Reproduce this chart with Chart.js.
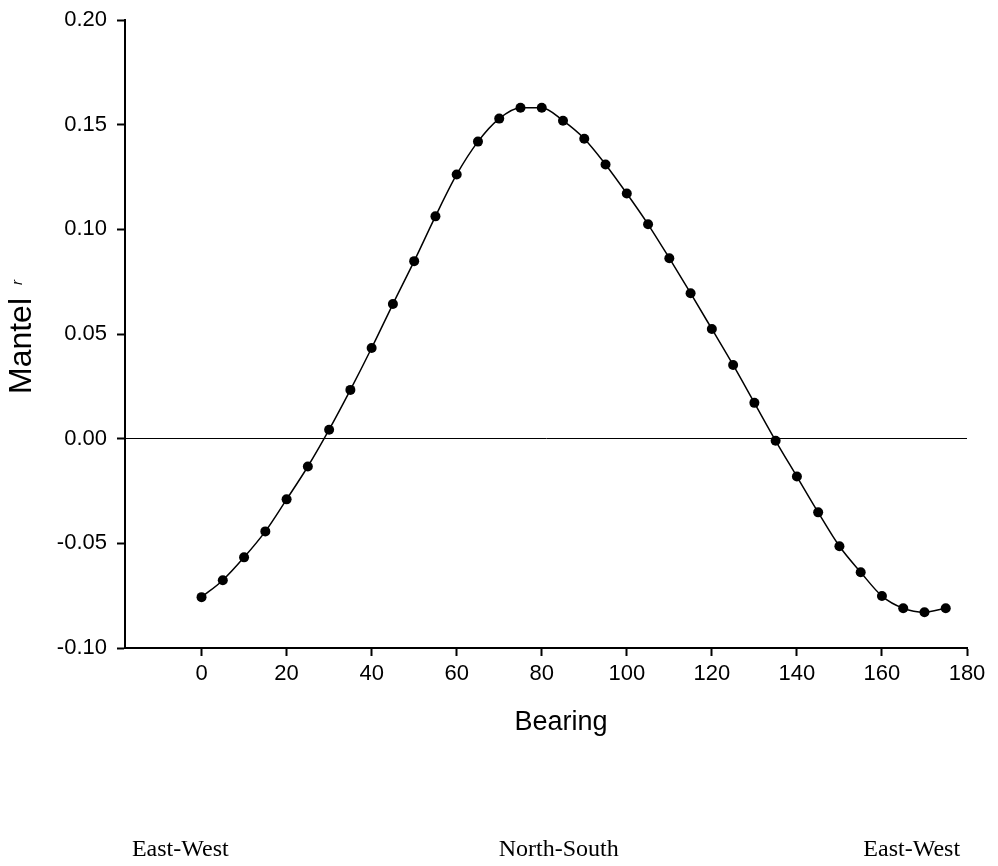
<!DOCTYPE html>
<html lang="en">
<head>
  <meta charset="UTF-8" />
  <title>Mantel r by bearing</title>
  <script src="https://cdn.jsdelivr.net/npm/chart.js"></script>
  <style>
    body {
      margin: 0;
      background: #fff;
    }
    .wrap {
      width: 998px;
      height: 866px;
      position: relative;
    }
  </style>
</head>
<body>
  <div class="wrap">
    <canvas id="mantelChart" width="998" height="866"></canvas>
  </div>

  <script>
    // bearing in degrees and Mantel r at each bearing
    const bearings = [0, 5, 10, 15, 20, 25, 30, 35, 40, 45, 50, 55, 60, 65, 70, 75, 80, 85,
                      90, 95, 100, 105, 110, 115, 120, 125, 130, 135, 140, 145, 150, 155, 160, 165, 170, 175];
    const mantelR = [-0.0757, -0.0676, -0.0567, -0.0443, -0.0290, -0.0133, 0.0043, 0.0233, 0.0433,
                     0.0643, 0.0848, 0.1062, 0.1262, 0.1419, 0.1529, 0.1581, 0.1581, 0.1519,
                     0.1433, 0.1310, 0.1171, 0.1024, 0.0862, 0.0695, 0.0524, 0.0352, 0.0171,
                     -0.0010, -0.0181, -0.0352, -0.0514, -0.0638, -0.0752, -0.0810, -0.0829, -0.0810];

    const xTicks = [0, 20, 40, 60, 80, 100, 120, 140, 160, 180];
    const yTicks = [-0.10, -0.05, 0.00, 0.05, 0.10, 0.15, 0.20];

    // direction names under the axis, at bearing positions
    const directionNames = ['East-West', 'North-South', 'East-West'];
    const directionAt = [-5, 84, 167];

    const FONT = '"Liberation Sans", Arial, sans-serif';

    const labelsPlugin = {
      id: 'labels',
      afterDraw(chart) {
        const ctx = chart.ctx;
        const x = chart.scales.x;
        ctx.save();
        ctx.fillStyle = '#000';

        // x axis title
        ctx.font = '27px ' + FONT;
        ctx.textAlign = 'center';
        ctx.textBaseline = 'middle';
        ctx.fillText('Bearing', 561, 723);

        // y axis title with italic r
        ctx.translate(22, 346);
        ctx.rotate(-Math.PI / 2);
        ctx.font = '32px ' + FONT;
        ctx.textAlign = 'center';
        ctx.fillText('Mantel', 0, 0);
        ctx.font = 'italic 15px ' + FONT;
        ctx.textAlign = 'left';
        ctx.fillText('r', 61, -4);
        ctx.restore();

        ctx.save();
        ctx.fillStyle = '#000';
        ctx.font = '24px "Liberation Serif", "Times New Roman", serif';
        ctx.textAlign = 'center';
        ctx.textBaseline = 'alphabetic';
        directionNames.forEach((name, i) => {
          ctx.fillText(name, x.getPixelForValue(directionAt[i]), 856);
        });
        ctx.restore();
      }
    };

    new Chart(document.getElementById('mantelChart'), {
      type: 'line',
      data: {
        datasets: [{
          data: bearings.map((b, i) => ({ x: b, y: mantelR[i] })),
          borderColor: '#000',
          borderWidth: 1.5,
          pointRadius: 5,
          pointBackgroundColor: '#000',
          pointBorderColor: '#000',
          pointBorderWidth: 0,
          fill: false,
          cubicInterpolationMode: 'monotone'
        }]
      },
      options: {
        responsive: false,
        animation: false,
        layout: { padding: { top: 0, right: 31, bottom: 0, left: 0 } },
        plugins: {
          legend: { display: false },
          tooltip: { enabled: false }
        },
        scales: {
          x: {
            type: 'linear',
            min: -18,
            max: 180,
            afterBuildTicks: s => { s.ticks = xTicks.map(v => ({ value: v })); },
            afterFit: s => { s.height = 218; },
            border: { display: true, color: '#000', width: 2 },
            grid: {
              drawOnChartArea: false,
              tickLength: 8,
              tickColor: '#000',
              tickWidth: 2
            },
            ticks: {
              color: '#000',
              font: { family: FONT, size: 22 },
              padding: 5,
              maxRotation: 0
            }
          },
          y: {
            min: -0.10,
            max: 0.20,
            afterBuildTicks: s => { s.ticks = yTicks.map(v => ({ value: v })); },
            afterFit: s => { s.width = 125; s.paddingTop = 20; },
            border: { display: true, color: '#000', width: 2 },
            grid: {
              // only the zero line is drawn across the plot
              color: c => c.tick && Math.abs(c.tick.value) < 1e-9 ? '#000' : 'rgba(0,0,0,0)',
              lineWidth: 1,
              tickLength: 8,
              tickColor: '#000',
              tickWidth: 2
            },
            ticks: {
              color: '#000',
              font: { family: FONT, size: 22, lineHeight: 1 },
              padding: 10,
              callback: v => v.toFixed(2)
            }
          }
        }
      },
      plugins: [labelsPlugin]
    });
  </script>
</body>
</html>
